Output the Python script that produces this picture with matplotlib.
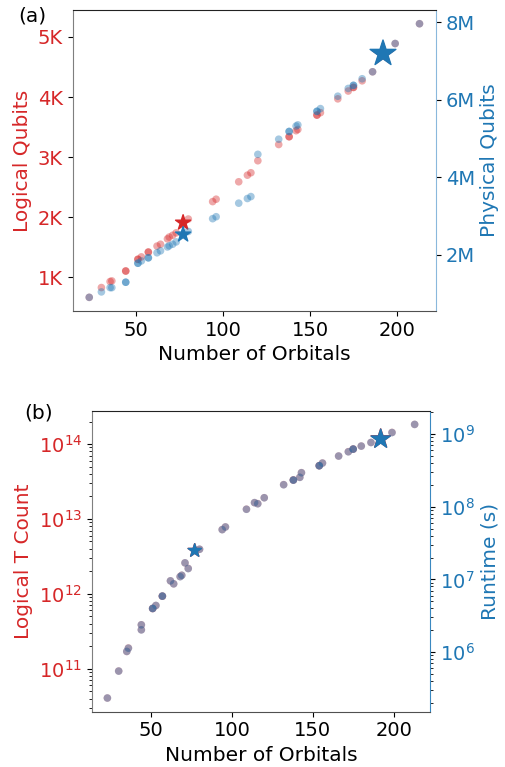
import matplotlib
matplotlib.use('Agg')
import matplotlib.pyplot as plt
from matplotlib.ticker import FuncFormatter

RED = 'tab:red'
BLUE = 'tab:blue'

# number of orbitals for each instance (shared by both panels)
orbitals = [23, 30, 35, 36, 44, 44, 51, 51, 53, 57, 57, 62, 64, 68, 69, 71, 73,
            80, 94, 96, 109, 114, 116, 120, 132, 138, 138, 142, 143, 154, 154,
            156, 166, 172, 175, 175, 180, 186, 199, 213]

# panel (a)
logical_qubits = [667, 830, 930, 940, 1105, 1105, 1300, 1300, 1340, 1420, 1420,
                  1520, 1550, 1640, 1670, 1700, 1740, 1970, 2260, 2300, 2590,
                  2700, 2740, 2940, 3210, 3340, 3340, 3440, 3460, 3700, 3700,
                  3740, 3970, 4100, 4160, 4160, 4270, 4420, 4890, 5220]
physical_qubits = [0.90e6, 1.04e6, 1.15e6, 1.15e6, 1.29e6, 1.29e6, 1.78e6, 1.78e6,
                   1.84e6, 1.92e6, 1.92e6, 2.05e6, 2.10e6, 2.20e6, 2.23e6, 2.27e6,
                   2.33e6, 2.60e6, 2.93e6, 2.98e6, 3.33e6, 3.45e6, 3.50e6, 4.59e6,
                   4.98e6, 5.18e6, 5.18e6, 5.32e6, 5.35e6, 5.70e6, 5.70e6, 5.77e6,
                   6.09e6, 6.29e6, 6.37e6, 6.37e6, 6.54e6, 6.72e6, 7.45e6, 7.96e6]

# panel (b)
t_count = [4.06e10, 9.31e10, 1.70e11, 1.89e11, 3.86e11, 3.31e11, 6.37e11, 6.37e11,
           6.98e11, 9.31e11, 9.31e11, 1.49e12, 1.36e12, 1.70e12, 1.77e12, 2.59e12,
           2.18e12, 3.94e12, 7.21e12, 7.82e12, 1.35e13, 1.65e13, 1.60e13, 1.92e13,
           2.87e13, 3.31e13, 3.31e13, 3.60e13, 4.15e13, 5.14e13, 5.14e13, 5.58e13,
           6.92e13, 7.91e13, 8.57e13, 8.57e13, 9.40e13, 1.05e14, 1.43e14, 1.83e14]
runtime = [2.33e5, 5.47e5, 1.02e6, 1.13e6, 2.37e6, 2.02e6, 3.98e6, 3.98e6,
           4.38e6, 5.89e6, 5.89e6, 9.55e6, 8.69e6, 1.09e7, 1.14e7, 1.69e7,
           1.41e7, 2.60e7, 4.84e7, 5.27e7, 9.23e7, 1.14e8, 1.10e8, 1.33e8,
           2.01e8, 2.33e8, 2.33e8, 2.54e8, 2.94e8, 3.67e8, 3.67e8, 3.99e8,
           4.99e8, 5.71e8, 6.22e8, 6.22e8, 6.84e8, 7.67e8, 1.05e9, 1.36e9]

# highlighted instances (stars)
star_orbitals = [77, 192]
star_logical = [1910, 4720]
star_physical = [2.52e6, 7.19e6]
star_tcount = [3.78e12, 1.17e14]
star_runtime = [2.49e7, 8.53e8]

fig = plt.figure(figsize=(5.05, 7.67), dpi=100)
FS = 14.5
TS = 14

def style(ax1, ax2, right_color):
    for sp in ['left', 'bottom', 'top', 'right']:
        ax1.spines[sp].set_visible(False)
    ax2.spines['left'].set_color('#7f7f7f')
    ax2.spines['bottom'].set_color('#505050')
    ax2.spines['top'].set_color('#222222')
    ax2.spines['right'].set_color(right_color)
    ax1.tick_params(axis='y', labelcolor=RED, labelsize=TS)
    ax1.tick_params(axis='x', labelsize=TS)
    ax2.tick_params(axis='y', labelcolor=BLUE, labelsize=TS)

# ---- (a) qubits ----
ax1 = fig.add_axes([0.144, 0.5945, 0.7194, 0.3924])
ax2 = ax1.twinx()
ax1.scatter(orbitals, logical_qubits, s=30, color=RED, alpha=0.4, edgecolors='none')
ax2.scatter(orbitals, physical_qubits, s=30, color=BLUE, alpha=0.4, edgecolors='none')
ax1.scatter(star_orbitals, star_logical, s=[130, 300], marker='*', color=RED, zorder=3)
ax2.scatter(star_orbitals, star_physical, s=[130, 380], marker='*', color=BLUE, zorder=3)
ax1.set_yticks([1000, 2000, 3000, 4000, 5000])
ax2.set_yticks([2e6, 4e6, 6e6, 8e6])
ax1.yaxis.set_major_formatter(FuncFormatter(lambda v, p: '%dK' % round(v / 1000)))
ax2.yaxis.set_major_formatter(FuncFormatter(lambda v, p: '%dM' % round(v / 1e6)))
ax1.set_xticks([50, 100, 150, 200])
ax1.set_xlabel('Number of Orbitals', fontsize=FS)
ax1.set_ylabel('Logical Qubits', color=RED, fontsize=FS)
ax2.set_ylabel('Physical Qubits', color=BLUE, fontsize=FS)
style(ax1, ax2, '#8ab8dc')
fig.text(0.036, 0.972, '(a)', fontsize=FS)

# ---- (b) T count / runtime ----
bx1 = fig.add_axes([0.1822, 0.0721, 0.6693, 0.3924])
bx2 = bx1.twinx()
bx1.set_yscale('log')
bx2.set_yscale('log')
bx1.scatter(orbitals, t_count, s=30, color=RED, alpha=0.4, edgecolors='none')
bx2.scatter(orbitals, runtime, s=30, color=BLUE, alpha=0.4, edgecolors='none')
bx1.scatter(star_orbitals, star_tcount, s=[100, 210], marker='*', color=RED, zorder=3)
bx2.scatter(star_orbitals, star_runtime, s=[100, 210], marker='*', color=BLUE, zorder=3)
bx1.set_xticks([50, 100, 150, 200])
bx1.set_xlabel('Number of Orbitals', fontsize=FS)
bx1.set_ylabel('Logical T Count', color=RED, fontsize=FS)
bx2.set_ylabel('Runtime (s)', color=BLUE, fontsize=FS)
style(bx1, bx2, '#3a88c0')
fig.text(0.048, 0.455, '(b)', fontsize=FS)

fig.savefig('out.png', dpi=100)
